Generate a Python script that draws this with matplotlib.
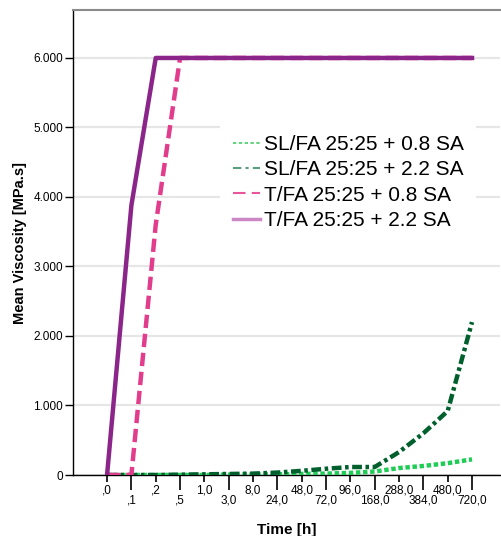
import matplotlib
matplotlib.use('Agg')
import matplotlib.pyplot as plt
from matplotlib.lines import Line2D
from matplotlib.ticker import FuncFormatter, FixedLocator, FixedFormatter
import numpy as np

plt.rcParams['font.family'] = ['Liberation Sans', 'DejaVu Sans']

# categorical time axis
times = [',0', ',1', ',2', ',5', '1,0', '3,0', '8,0', '24,0', '48,0', '72,0',
         '96,0', '168,0', '288,0', '384,0', '480,0', '720,0']

# mean viscosity per series
sl_08 = [0, 0, 0, 0, 0, 5, 5, 10, 15, 20, 30, 50, 100, 130, 170, 225]
sl_22 = [0, 0, 0, 5, 10, 15, 20, 35, 60, 90, 115, 115, 330, 600, 920, 2200]
t_08 = [0, 0, 3600, 6000, 6000, 6000, 6000, 6000, 6000, 6000, 6000, 6000,
        6000, 6000, 6000, 6000]
t_22 = [0, 3880, 6000, 6000, 6000, 6000, 6000, 6000, 6000, 6000, 6000, 6000,
        6000, 6000, 6000, 6000]

labels = ['SL/FA 25:25 + 0.8 SA', 'SL/FA 25:25 + 2.2 SA',
          'T/FA 25:25 + 0.8 SA', 'T/FA 25:25 + 2.2 SA']

fig = plt.figure(figsize=(5.01, 5.36), dpi=100)
ax = fig.add_axes([73/501, 61/536, 427/501, 465/536])

x = np.arange(len(times))
ax.plot(x, sl_08, color='#1fcc55', lw=3.2, dashes=(1, 0.6), zorder=3)
ax.plot(x, sl_22, color='#00602d', lw=3.2, dashes=(2.2, 0.8, 0.8, 0.8), zorder=3)
ax.plot(x, t_08, color='#e23d8c', lw=3.2, dashes=(3, 1.3), zorder=3)
ax.plot(x, t_22, color='#8b2589', lw=3.2, zorder=4)

ax.set_xlim(-1.4, 16.15)
ax.set_ylim(0, 6690)
ax.set_yticks([0, 1000, 2000, 3000, 4000, 5000, 6000])
ax.yaxis.set_major_formatter(FuncFormatter(lambda v, p: '0' if v == 0 else f'{int(v):,}'.replace(',', '.')))
ax.grid(axis='y', color='#e6e6e6', lw=1.6, zorder=0)
ax.set_axisbelow(True)

# staggered category labels: even -> short ticks, odd -> long ticks
ax.xaxis.set_major_locator(FixedLocator(x[0::2]))
ax.xaxis.set_major_formatter(FixedFormatter(times[0::2]))
ax.xaxis.set_minor_locator(FixedLocator(x[1::2]))
ax.xaxis.set_minor_formatter(FixedFormatter(times[1::2]))
ax.tick_params(axis='x', which='major', length=5, width=1.2, pad=1.5, labelsize=8.5)
ax.tick_params(axis='x', which='minor', length=11, width=1.2, pad=3, labelsize=8.5)
ax.tick_params(axis='y', length=5.5, width=1.0, labelsize=8.5, pad=1.5)

ax.spines['right'].set_visible(False)
ax.spines['top'].set_color('#8a8a8a')
ax.spines['top'].set_linewidth(1.5)
ax.spines['left'].set_linewidth(1.0)
ax.spines['bottom'].set_linewidth(1.0)

ax.set_xlabel('Time [h]', fontsize=11, fontweight='bold', labelpad=12)
ax.set_ylabel('Mean Viscosity [MPa.s]', fontsize=10.5, fontweight='bold', labelpad=5)

handles = [
    Line2D([], [], color='#44cc66', lw=1.2, dashes=(2, 1.5)),
    Line2D([], [], color='#5a9e80', lw=1.5, dashes=(4, 2, 1.5, 2)),
    Line2D([], [], color='#e8559a', lw=1.5, dashes=(6, 3)),
    Line2D([], [], color='#cc88c4', lw=2.5),
]
leg = ax.legend(handles, labels, loc='upper left', bbox_to_anchor=(0.32, 0.78),
                frameon=True, fontsize=15, handlelength=1.3, handletextpad=0.2,
                labelspacing=0.3, borderpad=0.6)
leg.get_frame().set_facecolor('white')
leg.get_frame().set_edgecolor('none')
leg.get_frame().set_alpha(1)

fig.savefig('out.png', dpi=100)
